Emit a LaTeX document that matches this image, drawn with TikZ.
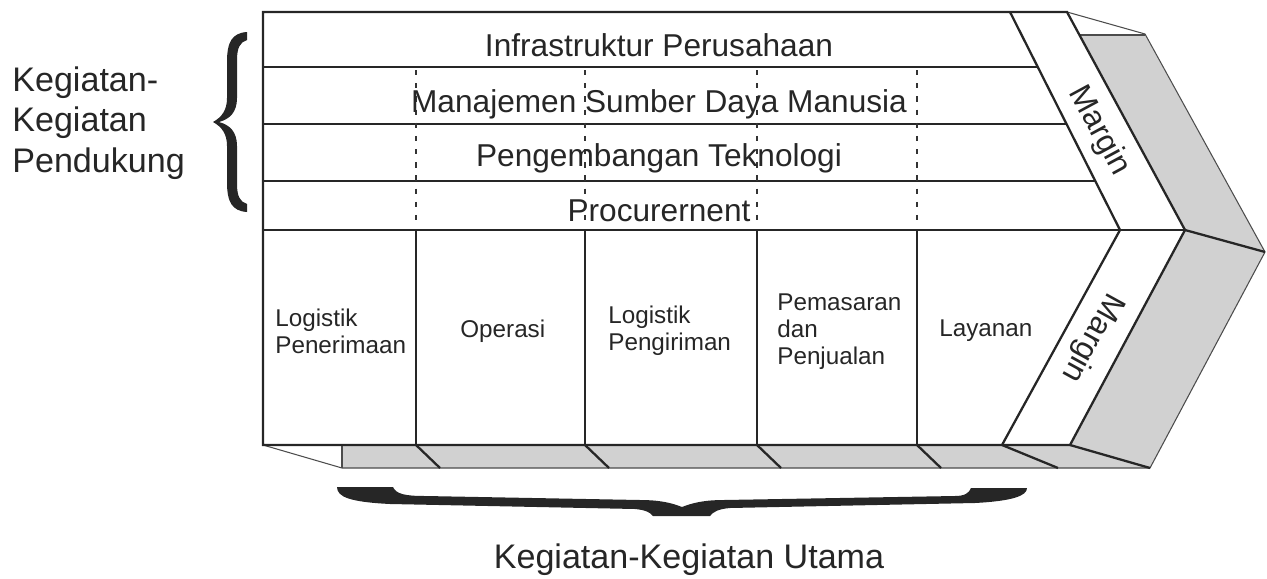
\documentclass[tikz,border=0pt]{standalone}
\usepackage{fontspec}
\setmainfont{Liberation Sans}
\usepackage{tikz}
\usetikzlibrary{calc}

\begin{document}
\begin{tikzpicture}[x=0.02cm, y=-0.02cm,
        frontline/.style={line width=1.3pt, draw=black!85},
        backline/.style={line width=0.6pt, draw=black!70},
        sideface/.style={fill=black!18},
        rowtext/.style={font=\fontsize{18}{20}\selectfont, text=black!85, anchor=base},
        coltext/.style={font=\fontsize{13.8}{15.4}\selectfont, text=black!85, align=left, anchor=west, inner sep=0pt},
        bigtext/.style={font=\fontsize{19.4}{23}\selectfont, text=black!85, align=left, inner sep=0pt},
        margintext/.style={font=\fontsize{18}{20}\selectfont, text=black!85}]
        \useasboundingbox (0,0) rectangle (1267,578);

        % grey faces behind the front
        \fill[sideface] (1080,35) -- (1145,35) -- (1265,252) -- (1185,230) -- cycle;
        \fill[sideface] (1185,230) -- (1265,252) -- (1150,468) -- (1070,445) -- cycle;
        \fill[sideface] (342,445) -- (1070,445) -- (1150,468) -- (342,468) -- cycle;
        \draw[backline] (1067,12) -- (1145,34) -- (1265,252) -- (1150,468) -- (342,468) -- (263,445);
        \draw[backline] (1080,35) -- (1145,35);
        \draw[backline] (342,445) -- (342,468);
        \draw[frontline] (1185,230) -- (1265,252);
        \foreach \x in {416,585,757,917}
            \draw[frontline] (\x,445) -- (\x+24,468);
        \draw[frontline] (1002,445) -- (1058,468);
        \draw[frontline] (1070,445) -- (1150,468);

        % front of the chain
        \draw[frontline] (263,12) -- (1067,12) -- (1185,230) -- (1070,445) -- (263,445) -- cycle;
        \draw[frontline] (1010,12) -- (1120,230) -- (1002,445);
        \draw[frontline] (263,67) -- (1038,67);
        \draw[frontline] (263,124) -- (1066,124);
        \draw[frontline] (263,181) -- (1095,181);
        \draw[frontline] (263,230) -- (1185,230);
        \foreach \x in {416,585,757,917} {
            \draw[frontline] (\x,230) -- (\x,445);
            \draw[line width=1.2pt, black!80, dash pattern=on 3pt off 4.5pt] (\x,70) -- (\x,228);
        }

        \node[rowtext] (infra) at (659,56) {Infrastruktur Perusahaan};
        \node[rowtext] (sdm) at (659,112) {Manajemen Sumber Daya Manusia};
        \node[rowtext] (tekno) at (659,166) {Pengembangan Teknologi};
        \node[rowtext] (procure) at (659,221) {Procurernent};

        \node[coltext] (inbound) at (275,331) {Logistik\\Penerimaan};
        \node[coltext] (operasi) at (460,331) {Operasi};
        \node[coltext] (outbound) at (608,331) {Logistik\\Pengiriman};
        \node[coltext] (pemasaran) at (777,332) {Pemasaran\\dan\\Penjualan};
        \node[coltext] (layanan) at (939,331) {Layanan};

        \node[margintext, rotate=-61.6] (margintop) at (1099,131) {Margin};
        \node[margintext, rotate=-118.8] (marginbottom) at (1092,338) {Margin};

        % braces
        \fill[black!85] (247,32) .. controls (232,33) and (227,42) .. (227,62) -- (227,98)
            .. controls (227,110) and (222,117) .. (213,122)
            .. controls (222,127) and (227,134) .. (227,146) -- (227,182)
            .. controls (227,202) and (232,211) .. (247,212) -- (247,204)
            .. controls (240,202) and (237,196) .. (237,184) -- (237,146)
            .. controls (237,132) and (230,125) .. (219,122)
            .. controls (230,119) and (237,112) .. (237,98) -- (237,60)
            .. controls (237,48) and (240,42) .. (247,40) -- cycle;
        \fill[black!85] (337,487) -- (393,487) .. controls (396,494) and (405,496) .. (425,496)
            -- (640,500) .. controls (660,500) and (672,503) .. (682,507)
            .. controls (692,503) and (704,500) .. (724,500) -- (955,496)
            .. controls (965,496) and (969,493) .. (971,488) -- (1027,488)
            .. controls (1027,496) and (1012,501) .. (975,503) -- (730,508)
            .. controls (718,509) and (713,512) .. (710,516) -- (653,516)
            .. controls (650,512) and (645,510) .. (635,509) -- (390,504)
            .. controls (350,502) and (337,497) .. (337,487) -- cycle;

        \node[bigtext, anchor=west] (pendukung) at (12,123) {Kegiatan-\\Kegiatan\\Pendukung};
        \node[bigtext, anchor=base] (utama) at (689,568) {Kegiatan-Kegiatan Utama};
    \end{tikzpicture}
\end{document}
